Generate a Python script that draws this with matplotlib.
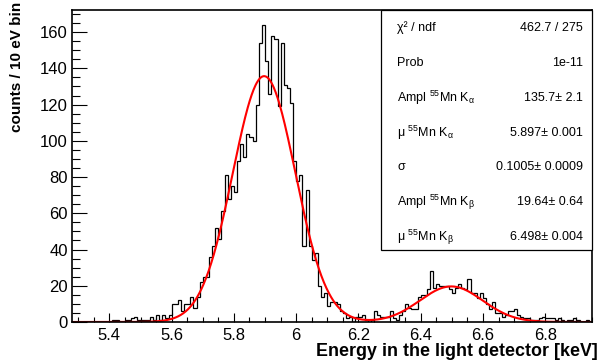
import numpy as np
import matplotlib.pyplot as plt
from matplotlib.patches import Rectangle
from matplotlib.ticker import MultipleLocator

plt.rcParams["font.family"] = ["Liberation Sans", "DejaVu Sans"]
plt.rcParams["mathtext.fontset"] = "custom"
plt.rcParams["mathtext.rm"] = "Liberation Sans"

# histogram: 10 eV bins starting at 5.28 keV
bin_start = 5.28
bin_width = 0.01
counts = [
    0, 0, 0, 0, 0, 0, 0, 0, 0, 0,
    0, 0, 0, 1, 1, 0, 0, 1, 1, 2,
    3, 1, 1, 1, 1, 3, 1, 4, 1, 4,
    2, 4, 10, 10, 12, 6, 10, 10, 14, 8,
    14, 22, 25, 25, 36, 42, 52, 46, 61, 81,
    68, 75, 72, 89, 98, 91, 104, 102, 100, 120,
    154, 164, 144, 126, 158, 156, 119, 154, 131, 129,
    121, 89, 78, 81, 42, 73, 42, 34, 38, 20,
    14, 16, 9, 11, 11, 10, 6, 5, 2, 3,
    0, 3, 3, 4, 1, 0, 1, 6, 4, 3,
    3, 3, 6, 2, 1, 4, 6, 10, 8, 7,
    7, 14, 15, 15, 18, 28, 19, 21, 20, 20,
    20, 18, 16, 19, 21, 19, 18, 24, 16, 16,
    13, 16, 13, 10, 7, 11, 5, 5, 3, 4,
    6, 6, 7, 4, 3, 2, 2, 1, 1, 1,
    2, 3, 2, 2, 2, 1, 2, 1, 0, 1,
    1, 2, 1, 0, 0, 1, 0,
]

# fit results (two gaussians, common sigma)
ampl_ka = 135.7
mu_ka = 5.897
sigma = 0.1005
ampl_kb = 19.64
mu_kb = 6.498

stat_names = [
    "χ² / ndf",
    "Prob",
    r"Ampl $\mathregular{^{55}}$Mn K$\mathregular{_{α}}$",
    r"μ $\mathregular{^{55}}$Mn K$\mathregular{_{α}}$",
    "σ",
    r"Ampl $\mathregular{^{55}}$Mn K$\mathregular{_{β}}$",
    r"μ $\mathregular{^{55}}$Mn K$\mathregular{_{β}}$",
]
stat_values = [
    "462.7 / 275",
    "1e-11",
    "135.7± 2.1",
    "5.897± 0.001",
    "0.1005± 0.0009",
    "19.64± 0.64",
    "6.498± 0.004",
]

edges = bin_start + bin_width * np.arange(len(counts) + 1)

fig = plt.figure(figsize=(6.08, 3.62), dpi=100)
W, H = 608, 362
ax = fig.add_axes([72 / W, 1 - 322 / H, 520 / W, 312 / H])

ax.stairs(counts, edges, color="black", linewidth=0.9, baseline=0)

xf = np.linspace(edges[0], edges[-1], 800)
yf = (ampl_ka * np.exp(-0.5 * ((xf - mu_ka) / sigma) ** 2)
      + ampl_kb * np.exp(-0.5 * ((xf - mu_kb) / sigma) ** 2))
ax.plot(xf, yf, color="#ff0000", linewidth=1.5)

ax.set_xlim(edges[0], edges[-1])
ax.set_ylim(0, max(counts) * 1.05)

ax.xaxis.set_major_locator(MultipleLocator(0.2))
ax.xaxis.set_minor_locator(MultipleLocator(0.05))
ax.yaxis.set_major_locator(MultipleLocator(20))
ax.yaxis.set_minor_locator(MultipleLocator(5))
ax.xaxis.set_major_formatter(plt.FuncFormatter(lambda v, p: f"{v:g}"))

ax.tick_params(axis="x", which="major", direction="in", length=6.6, width=0.8,
               labelsize=12, pad=4)
ax.tick_params(axis="x", which="minor", direction="in", length=3.3, width=0.8)
ax.tick_params(axis="y", which="major", direction="in", length=11, width=0.8,
               labelsize=12, pad=3)
ax.tick_params(axis="y", which="minor", direction="in", length=5.5, width=0.8)
for s in ax.spines.values():
    s.set_linewidth(1.2)

# stats box
bx0, bx1 = 381 / W, 592 / W
by0, by1 = 1 - 250 / H, 1 - 10 / H
fig.patches.append(Rectangle((bx0, by0), bx1 - bx0, by1 - by0, transform=fig.transFigure,
                             facecolor="white", edgecolor="black", linewidth=0.9, zorder=5))
row_y = [28, 63, 98, 133, 167, 202, 237]
for name, val, yy in zip(stat_names, stat_values, row_y):
    fig.text(397 / W, 1 - yy / H, name, fontsize=9, ha="left", va="center", zorder=6)
    fig.text(583 / W, 1 - yy / H, val, fontsize=9, ha="right", va="center", zorder=6)

fig.text(598 / W, 1 - 352 / H, "Energy in the light detector [keV]",
         fontsize=12.9, fontweight="bold", ha="right", va="center")
fig.text(17 / W, 1 - 2 / H, "counts / 10 eV bin", fontsize=11, fontweight="bold",
         rotation=90, ha="center", va="top")

fig.savefig("out.png", dpi=100)
